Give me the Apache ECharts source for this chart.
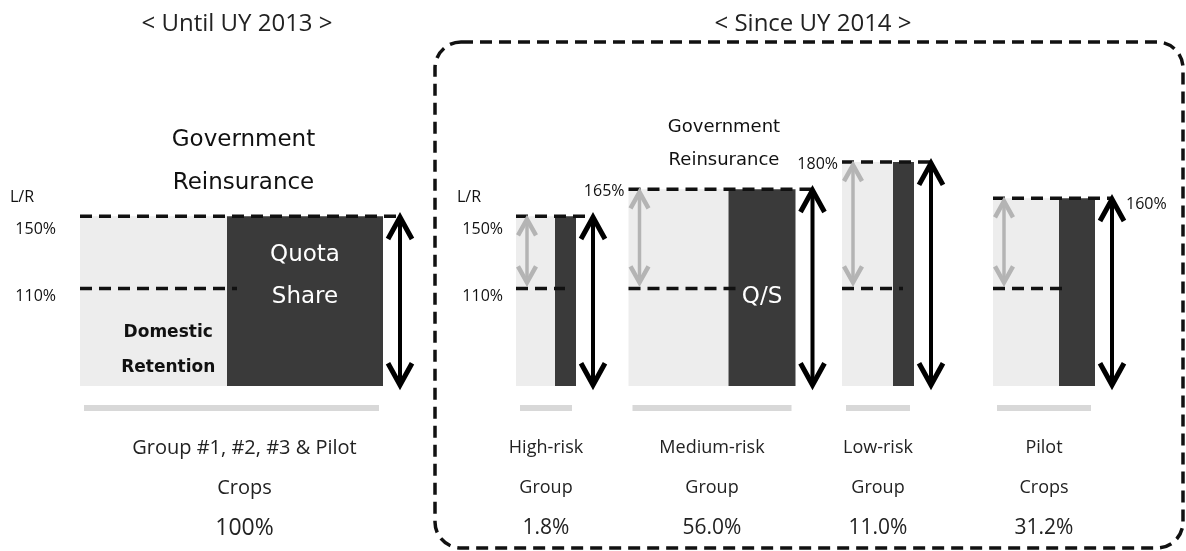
<!DOCTYPE html>
<html>
<head>
<meta charset="utf-8">
<title></title>
<style>
html, body {margin:0; padding:0; background:#fff}
#chart {width:1186px; height:551px}
</style>
<script src="https://cdn.jsdelivr.net/npm/echarts@6/dist/echarts.min.js"></script>
</head>
<body>
<div id="chart"></div>
<script>
// left panel (until UY 2013) first, then the four groups since UY 2014
const groups = ['Group #1, #2, #3 & Pilot\nCrops', 'High-risk\nGroup', 'Medium-risk\nGroup', 'Low-risk\nGroup', 'Pilot\nCrops'];
const shares = ['100%', '1.8%', '56.0%', '11.0%', '31.2%'];
const lrTop = [150, 150, 165, 180, 160];      // upper L/R limit
const lrAttach = [110, 110, 110, 110, 110];   // attachment point
const topLabels = ['Government\nReinsurance', '', 'Government\nReinsurance', '', ''];
const qsLabels = ['Quota\nShare', '', 'Q/S', '', ''];
const retLabels = ['Domestic\nRetention', '', '', '', ''];

const yMin = 56, yMax = 200;

// drawing sizes (px), not data
const barPx = [303, 60, 167, 72, 102];
const qsPx = [156, 21, 67, 21, 36];
const qsDy = [-12, 0, 9, 0, 0];
const topFont = [23, 0, 18, 0, 0];
const topLine = [43, 0, 33, 0, 0];
const lvlMode = ['outer', 'outer', 'inline', 'inline', 'after'];

const FONT = '"Open Sans", "Noto Sans", sans-serif';
const BOLD = '"DejaVu Sans", "Noto Sans", sans-serif';

function arrowParts(x, y1, y2, color, lw, head) {
  const hs = {stroke: color, lineWidth: lw + 1, fill: null, lineJoin: 'miter'};
  return [
    {type: 'line', shape: {x1: x, y1: y1 + 2, x2: x, y2: y2 - 2}, style: {stroke: color, lineWidth: lw}},
    {type: 'polyline', shape: {points: [[x - head, y1 + head * 1.9], [x, y1 + 1], [x + head, y1 + head * 1.9]]}, style: hs},
    {type: 'polyline', shape: {points: [[x - head, y2 - head * 1.9], [x, y2 - 1], [x + head, y2 - head * 1.9]]}, style: hs}
  ];
}

function makeRender(offset) {
  return function (params, api) {
    const i = offset + params.dataIndex;
    const c = api.value(0);
    const pTop = api.coord([c, api.value(1)]);
    const yAtt = api.coord([c, api.value(2)])[1];
    const yBot = api.coord([c, yMin])[1];
    const cx = pTop[0], yTop = pTop[1];
    const x0 = cx - barPx[i] / 2, x1 = cx + barPx[i] / 2;
    const xd = x1 - qsPx[i];
    const ax = x1 + 17;
    const dash = {stroke: '#111', lineWidth: 3.5, lineDash: [12, 7]};
    let ch = [
      {type: 'rect', shape: {x: x0, y: yTop, width: xd - x0, height: yBot - yTop}, style: {fill: '#ededed'}},
      {type: 'rect', shape: {x: xd, y: yTop, width: qsPx[i], height: yBot - yTop}, style: {fill: '#3a3a3a'}},
      {type: 'rect', shape: {x: x0 + 4, y: yBot + 19, width: barPx[i] - 8, height: 6}, style: {fill: '#d8d8d8'}},
      {type: 'line', shape: {x1: x0, y1: yTop, x2: ax, y2: yTop}, style: dash},
      {type: 'line', shape: {x1: x0, y1: yAtt, x2: xd + 10, y2: yAtt}, style: dash}
    ];
    ch = ch.concat(arrowParts(ax, yTop, yBot, '#000', 4, 12));
    if (offset > 0) {
      ch = ch.concat(arrowParts(x0 + 11, yTop + 2, yAtt - 5, '#b4b4b4', 3.5, 9));
    }
    const lbl = (text, x, y, align) => ({type: 'text', style: {text: text, x: x, y: y, align: align, verticalAlign: 'middle',
      fill: '#111', fontSize: 16, fontFamily: FONT}});
    if (lvlMode[i] === 'outer') {
      const gap = offset > 0 ? 13 : 24;
      ch.push(lbl('L/R', x0 - gap - 46, yTop - 19, 'left'));
      ch.push(lbl(api.value(1) + '%', x0 - gap, yTop + 13, 'right'));
      ch.push(lbl(api.value(2) + '%', x0 - gap, yAtt + 8, 'right'));
    } else if (lvlMode[i] === 'inline') {
      ch.push(lbl(api.value(1) + '%', x0 - 4, yTop + 2, 'right'));
    } else {
      ch.push(lbl(api.value(1) + '%', ax + 14, yTop + 6, 'left'));
    }
    if (topLabels[i]) {
      ch.push({type: 'text', style: {text: topLabels[i], x: cx + 12, y: yTop - 12, align: 'center', verticalAlign: 'bottom',
        fill: '#111', fontSize: topFont[i], lineHeight: topLine[i], fontFamily: BOLD}});
    }
    if (qsLabels[i]) {
      ch.push({type: 'text', style: {text: qsLabels[i], x: xd + qsPx[i] / 2, y: yAtt + qsDy[i], align: 'center', verticalAlign: 'middle',
        fill: '#fff', fontSize: 23, lineHeight: 42, fontFamily: BOLD}});
    }
    if (retLabels[i]) {
      ch.push({type: 'text', style: {text: retLabels[i], x: x0 + 0.6 * (xd - x0), y: yAtt + 62, align: 'center', verticalAlign: 'middle',
        fill: '#111', fontSize: 17, fontWeight: 'bold', lineHeight: 35, fontFamily: BOLD}});
    }
    return {type: 'group', children: ch};
  };
}

const idx = [0, 1, 2, 3, 4];
const left = idx.filter(i => i === 0);
const right = idx.filter(i => i > 0);

function catAxis(gi, list, nameSize, shareSize, pad) {
  return {
    type: 'category', gridIndex: gi, data: list.map(i => groups[i]),
    axisLine: {show: false}, axisTick: {show: false}, splitLine: {show: false},
    axisLabel: {
      interval: 0, margin: 42, lineHeight: 40, color: '#222', fontFamily: FONT, padding: pad,
      formatter: (v, k) => v.split('\n').map(s => '{n|' + s + '}').join('\n') + '\n{p|' + shares[list[k]] + '}',
      rich: {
        n: {fontSize: nameSize, lineHeight: 40, fontFamily: FONT, color: '#222'},
        p: {fontSize: shareSize, lineHeight: 40, fontFamily: FONT, color: '#222'}
      }
    }
  };
}

const chart = echarts.init(document.getElementById('chart'));
chart.setOption({
  animation: false,
  backgroundColor: '#fff',
  title: [
    {text: '< Until UY 2013 >', left: 232, top: 7, textAlign: 'center',
      textStyle: {fontSize: 24, fontWeight: 'normal', color: '#222', fontFamily: FONT}},
    {text: '< Since UY 2014 >', left: 808, top: 7, textAlign: 'center',
      textStyle: {fontSize: 24, fontWeight: 'normal', color: '#222', fontFamily: FONT}}
  ],
  grid: [
    {left: 66, width: 331, top: 126, height: 260},
    {left: 463, width: 664, top: 126, height: 260}
  ],
  xAxis: [catAxis(0, left, 20, 23, [0, 0, 0, 26]), catAxis(1, right, 18, 21, 0)],
  yAxis: [
    {type: 'value', gridIndex: 0, min: yMin, max: yMax, show: false},
    {type: 'value', gridIndex: 1, min: yMin, max: yMax, show: false}
  ],
  series: [
    {type: 'custom', xAxisIndex: 0, yAxisIndex: 0, renderItem: makeRender(0),
      data: left.map((i, k) => [k, lrTop[i], lrAttach[i]])},
    {type: 'custom', xAxisIndex: 1, yAxisIndex: 1, renderItem: makeRender(1),
      data: right.map((i, k) => [k, lrTop[i], lrAttach[i]])}
  ],
  graphic: [
    {type: 'rect', shape: {x: 435, y: 42, width: 748, height: 506, r: 26},
      style: {fill: null, stroke: '#111', lineWidth: 3.5, lineDash: [12, 7]}}
  ]
});
</script>
</body>
</html>
